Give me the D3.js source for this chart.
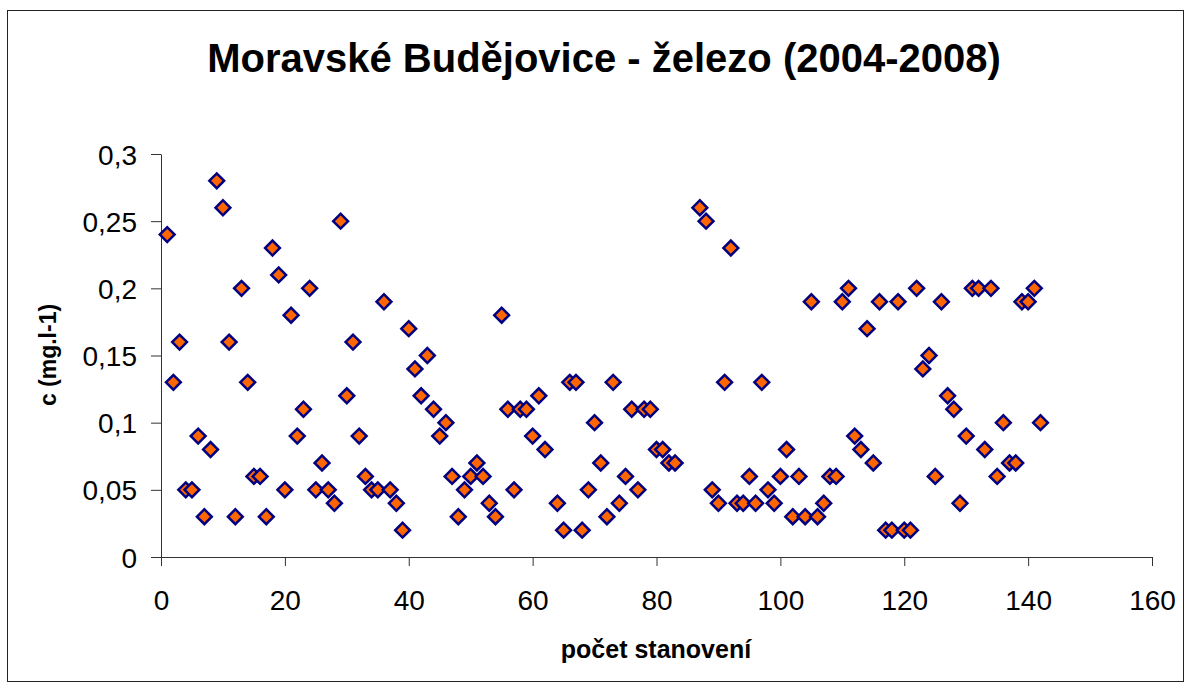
<!DOCTYPE html>
<html>
<head>
<meta charset="utf-8">
<script src="https://cdn.jsdelivr.net/npm/d3@7"></script>
<style>
  body { margin: 0; background: #fff; }
  text { font-family: Arial, "Liberation Sans", sans-serif; }
</style>
</head>
<body>
<svg id="chart"></svg>
<script>
// pořadí stanovení (chybí 63 a 84-86)
var pocet = [1,2,3,4,5,6,7,8,9,10,11,12,13,14,15,16,17,18,19,20,
	21,22,23,24,25,26,27,28,29,30,31,32,33,34,35,36,37,38,39,40,
	41,42,43,44,45,46,47,48,49,50,51,52,53,54,55,56,57,58,59,60,
	61,62,64,65,66,67,68,69,70,71,72,73,74,75,76,77,78,79,80,
	81,82,83,87,88,89,90,91,92,93,94,95,96,97,98,99,100,
	101,102,103,104,105,106,107,108,109,110,111,112,113,114,115,116,117,118,119,120,
	121,122,123,124,125,126,127,128,129,130,131,132,133,134,135,136,137,138,139,140,
	141,142];

// koncentrace železa (mg/l)
var zelezo = [0.24,0.13,0.16,0.05,0.05,0.09,0.03,0.08,0.28,0.26,0.16,0.03,0.20,0.13,0.06,0.06,0.03,0.23,0.21,0.05,
	0.18,0.09,0.11,0.20,0.05,0.07,0.05,0.04,0.25,0.12,0.16,0.09,0.06,0.05,0.05,0.19,0.05,0.04,0.02,0.17,
	0.14,0.12,0.15,0.11,0.09,0.10,0.06,0.03,0.05,0.06,0.07,0.06,0.04,0.03,0.18,0.11,0.05,0.11,0.11,0.09,
	0.12,0.08,0.04,0.02,0.13,0.13,0.02,0.05,0.10,0.07,0.03,0.13,0.04,0.06,0.11,0.05,0.11,0.11,0.08,
	0.08,0.07,0.07,0.26,0.25,0.05,0.04,0.13,0.23,0.04,0.04,0.06,0.04,0.13,0.05,0.04,0.06,
	0.08,0.03,0.06,0.03,0.19,0.03,0.04,0.06,0.06,0.19,0.20,0.09,0.08,0.17,0.07,0.19,0.02,0.02,0.19,0.02,
	0.02,0.20,0.14,0.15,0.06,0.19,0.12,0.11,0.04,0.09,0.20,0.20,0.08,0.20,0.06,0.10,0.07,0.07,0.19,0.19,
	0.20,0.10];

var xTicks = [0, 20, 40, 60, 80, 100, 120, 140, 160];
var yTicks = [0, 0.05, 0.1, 0.15, 0.2, 0.25, 0.3];

var width = 1191, height = 688;
var plot = { left: 161, right: 1152, top: 154, bottom: 557 };

var svg = d3.select('#chart')
	.attr('width', width)
	.attr('height', height);

// rámeček grafu
svg.append('rect')
	.attr('x', 7.5).attr('y', 10.5)
	.attr('width', 1176).attr('height', 671)
	.attr('fill', '#fff')
	.attr('stroke', '#222')
	.attr('stroke-width', 1);

var x = d3.scaleLinear().domain([0, 160]).range([plot.left, plot.right]);
var y = d3.scaleLinear().domain([0, 0.3]).range([plot.bottom, plot.top]);

var fmt = function(d) { return d3.format('~g')(d).replace('.', ','); };

var xAxis = svg.append('g')
	.attr('transform', 'translate(0,' + plot.bottom + ')')
	.call(d3.axisBottom(x).tickValues(xTicks).tickSize(9).tickPadding(24).tickSizeOuter(0));

var yAxis = svg.append('g')
	.attr('transform', 'translate(' + plot.left + ',0)')
	.call(d3.axisLeft(y).tickValues(yTicks).tickFormat(fmt).tickSize(10).tickPadding(14).tickSizeOuter(0));

[xAxis, yAxis].forEach(function(a) {
	a.select('.domain').attr('stroke', '#333');
	a.selectAll('.tick line').attr('stroke', '#333');
	a.selectAll('.tick text')
		.attr('fill', '#000')
		.style('font-size', '28px')
		.style('font-family', 'Arial, "Liberation Sans", sans-serif');
});
yAxis.selectAll('.tick text').attr('dy', '0.36em');

// body
var diamond = d3.symbol().type(d3.symbolSquare).size(110);
svg.append('g').selectAll('path')
	.data(pocet.map(function(p, i) { return { x: p, y: zelezo[i] }; }))
	.enter()
	.append('path')
	.attr('d', diamond)
	.attr('transform', function(d) {
		return 'translate(' + x(d.x) + ',' + y(d.y) + ') rotate(45)';
	})
	.attr('fill', '#FF6600')
	.attr('stroke', '#000080')
	.attr('stroke-width', 2.5);

// titulky
svg.append('text')
	.attr('x', 604).attr('y', 72)
	.attr('text-anchor', 'middle')
	.style('font-size', '40px')
	.style('font-weight', 'bold')
	.text('Moravské Budějovice - železo (2004-2008)');

svg.append('text')
	.attr('x', 656).attr('y', 658)
	.attr('text-anchor', 'middle')
	.style('font-size', '25px')
	.style('font-weight', 'bold')
	.text('počet stanovení');

svg.append('text')
	.attr('transform', 'translate(56,355) rotate(-90)')
	.attr('text-anchor', 'middle')
	.style('font-size', '23px')
	.style('font-weight', 'bold')
	.text('c (mg.l-1)');
</script>
</body>
</html>
